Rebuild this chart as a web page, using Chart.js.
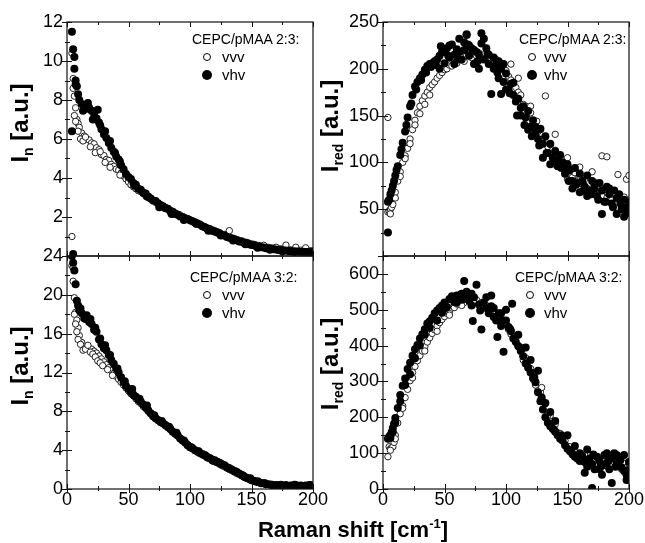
<!DOCTYPE html>
<html><head><meta charset="utf-8">
<script src="https://cdn.jsdelivr.net/npm/chart.js@4.4.1/dist/chart.umd.min.js"></script>
<style>
html,body{margin:0;padding:0;background:#fff;}
#wrap{position:relative;width:645px;height:543px;overflow:hidden;font-family:"Liberation Sans",Arial,Helvetica,sans-serif;color:#000;}
#wrap canvas{position:absolute;left:0;top:0;}
.ytitle{position:absolute;font-weight:bold;font-size:24px;line-height:24px;white-space:nowrap;transform:translate(-50%,-50%) rotate(-90deg);}
.ytitle sub{font-size:14px;vertical-align:baseline;position:relative;top:5px;}
.xtitle{position:absolute;font-weight:bold;font-size:22px;line-height:22px;white-space:nowrap;transform:translate(-50%,-50%);}
.xtitle sup{font-size:13px;vertical-align:baseline;position:relative;top:-9px;}
.lg{position:absolute;font-size:14px;line-height:16px;white-space:nowrap;transform:translateY(-50%);}
.lg.it{font-size:15px;}
.mk{position:absolute;border-radius:50%;transform:translate(-50%,-50%);box-sizing:border-box;}
.mk.open{width:8px;height:8px;border:1px solid #000;background:#fff;}
.mk.fill{width:10px;height:10px;background:#000;}
</style></head><body>
<div id="wrap">
<canvas id="cTL" width="645" height="543"></canvas>
<canvas id="cTR" width="645" height="543"></canvas>
<canvas id="cBL" width="645" height="543"></canvas>
<canvas id="cBR" width="645" height="543"></canvas>
</div>
<script>
// Raman shift grid (cm^-1)
const shift = [4,5,6,7,8,9,10,12,14,16,18,20,22,24,26,28,30,32,34,36,38,40,42,44,46,48,50,52,54,56,58,60,62,64,66,68,70,72,74,76,78,80,82,84,86,88,90,92,94,96,98,100,102,104,106,108,110,112,114,116,118,120,122,124,126,128,130,132,134,136,138,140,142,144,146,148,150,152,154,156,158,160,162,164,166,168,170,172,174,176,178,180,182,184,186,188,190,192,194,196,198,200];

// Top-left: I_n, CEPC/pMAA 2:3
const tlVvv = [10.4,9.1,8.2,7.6,7.0,6.8,6.6,
 6.3,6.15,6.0,5.95,5.8,5.75,5.55,5.45,5.2,5.15,
 4.95,4.9,4.7,4.6,4.45,4.4,4.25,4.1,3.95,3.8,
 3.65,3.55,3.45,3.35,3.3,3.2,3.1,3.0,2.95,2.85,
 2.75,2.7,2.6,2.55,2.5,2.4,2.35,2.25,2.2,2.15,
 2.1,2.0,1.95,1.9,1.85,1.8,1.75,1.7,1.6,1.55,
 1.5,1.45,1.4,1.35,1.3,1.25,1.2,1.12,1.1,1.02,
 0.98,0.92,0.9,0.85,0.8,0.78,0.72,0.7,0.66,0.62,
 0.6,0.56,0.54,0.5,0.48,0.46,0.44,0.42,0.4,0.38,
 0.37,0.36,0.34,0.33,0.32,0.31,0.3,0.3,0.29,0.3,
 0.28,0.28,0.27,0.27,0.26];
const tlVhv = [11.5,10.6,10.2,9.0,8.7,8.3,8.0,
 7.8,7.75,7.55,7.6,7.45,7.3,7.05,6.85,6.5,6.25,
 6.05,5.8,5.55,5.35,5.1,4.95,4.65,4.45,4.2,4.05,
 3.95,3.75,3.65,3.45,3.4,3.25,3.2,3.05,2.95,2.85,
 2.82,2.7,2.62,2.55,2.45,2.42,2.3,2.27,2.15,2.12,
 2.03,2.0,1.93,1.9,1.83,1.78,1.72,1.65,1.62,1.52,
 1.48,1.4,1.37,1.3,1.26,1.2,1.15,1.08,1.05,0.98,
 0.93,0.9,0.84,0.81,0.75,0.73,0.68,0.65,0.6,0.57,
 0.55,0.5,0.49,0.45,0.43,0.4,0.39,0.36,0.35,0.33,
 0.31,0.31,0.28,0.28,0.26,0.25,0.25,0.23,0.23,0.21,
 0.22,0.2,0.21,0.19,0.2];
const tlVvvExX = [4,5,6,7,9,11,13,15,19,23,27,31,35,43,132,160,170,178,186,194];
const tlVvvExY = [1.0,8.6,7.2,6.9,6.4,6.0,5.9,6.1,5.6,5.3,5.35,4.8,4.55,4.15,1.3,0.55,0.45,0.56,0.45,0.42];
const tlVhvExX = [4,5,6,7,13,17,21,25,27,31,35,39,43,55,65,75,85,95,105,115,125,135,145,155,165,175,185,195];
const tlVhvExY = [6.4,0.1,9.6,8.8,7.45,7.85,7.0,7.5,6.7,6.4,5.9,5.3,4.85,3.6,3.05,2.5,2.15,1.85,1.65,1.3,1.05,0.8,0.6,0.42,0.32,0.24,0.2,0.16];

// Bottom-left: I_n, CEPC/pMAA 3:2
const blVvv = [23.0,21.4,19.7,18.2,17.4,16.6,15.8,
 15.1,14.7,14.6,14.5,14.4,14.2,14.0,13.7,13.4,13.1,
 12.8,12.5,12.2,11.9,11.6,11.3,11.0,10.7,10.4,10.1,
 9.8,9.6,9.3,9.0,8.8,8.5,8.3,8.0,7.8,7.5,
 7.3,7.1,6.9,6.7,6.5,6.3,6.1,5.9,5.7,5.5,
 5.2,5.0,4.8,4.6,4.4,4.2,4.0,3.8,3.7,3.5,
 3.4,3.2,3.1,2.9,2.8,2.7,2.55,2.4,2.3,2.15,
 2.0,1.9,1.75,1.6,1.5,1.35,1.2,1.1,1.0,0.9,
 0.8,0.75,0.65,0.6,0.55,0.5,0.45,0.4,0.35,0.35,
 0.3,0.3,0.3,0.3,0.25,0.3,0.3,0.25,0.3,0.3,
 0.3,0.3,0.25,0.3,0.3];
const blVhv = [24.0,23.3,22.5,21.1,19.4,18.9,18.4,
 18.1,17.6,17.9,17.2,17.0,16.4,16.2,15.4,14.9,14.5,
 14.3,13.8,13.3,12.9,12.4,12.0,11.5,11.0,10.6,10.3,
 10.0,9.7,9.5,9.2,9.0,8.7,8.4,8.1,7.8,7.5,
 7.3,7.1,6.9,6.8,6.6,6.4,6.2,5.9,5.7,5.5,
 5.2,5.0,4.8,4.5,4.3,4.2,4.0,3.9,3.7,3.6,
 3.5,3.3,3.2,3.05,2.95,2.8,2.7,2.55,2.45,2.25,
 2.15,2.0,1.85,1.75,1.6,1.45,1.3,1.15,1.05,0.9,
 0.85,0.75,0.7,0.6,0.6,0.5,0.5,0.45,0.2,0.4,
 0.3,0.45,0.25,0.4,0.3,0.35,0.25,0.4,0.3,0.35,
 0.25,0.35,0.3,0.4,0.3];
const blVvvExX = [5,6,7,8,9,11,13,15,17,19,21,23,25,27,29,33,37];
const blVvvExY = [22.8,18.0,17.0,16.2,15.4,14.9,14.3,14.4,14.8,14.1,13.9,13.6,13.2,13.0,12.7,12.3,11.7];
const blVhvExX = [11,15,19,23,27,31,35,41,47,53,59,65,71,77,83,89,95,101,107,113,119,125,131,137,143,149,155,161,167,173,179,185,191,197];
const blVhvExY = [18.6,17.5,17.5,16.6,15.5,14.8,13.8,12.4,11.1,10.3,9.3,8.6,7.6,7.0,6.4,5.8,5.0,4.3,3.9,3.4,2.9,2.6,2.2,1.8,1.4,1.1,0.8,0.6,0.45,0.4,0.3,0.45,0.3,0.4];

// Top-right: I_red, CEPC/pMAA 2:3
const trVvv = [47,48,50,52,55,62,68,
 80,90,100,107,115,125,135,145,153,160,
 166,171,175,180,183,186,190,193,196,199,
 200,204,203,207,206,210,212,208,214,215,
 212,216,214,217,210,215,212,213,208,211,
 210,205,206,200,198,192,188,184,180,175,
 172,162,160,152,153,143,142,133,135,125,
 127,117,119,108,113,103,105,96,99,90,
 93,84,89,80,85,77,81,72,78,70,
 75,66,73,64,71,62,68,60,67,58,
 65,56,63,55,60];
const trVhv = [58,60,66,70,75,80,86,
 96,108,121,133,148,160,172,181,186,190,
 194,199,203,205,206,208,210,214,218,206,
 222,212,226,215,221,232,210,220,236,214,
 222,205,218,215,227,210,222,205,173,212,
 205,190,200,186,195,178,184,172,165,168,
 150,160,148,155,138,145,132,125,136,120,
 128,110,120,105,112,96,108,100,88,98,
 92,80,94,78,88,80,74,86,70,80,
 72,64,78,70,58,74,66,56,70,62,
 66,50,60,52,58];
const trVvvExX = [4,6,10,14,18,22,26,30,34,38,125,132,178,182,191,198,200,104,110,120,140,150,160,170,150,140];
const trVvvExY = [148,45,62,85,104,120,140,152,162,172,144,171,107,106,87,82,86,205,190,160,130,105,95,90,82,98];
const trVhvExX = [4,46,50,54,58,62,66,70,74,78,82,86,90,94,96,98,100,106,112,118,124,130,136,142,148,154,160,166,172,178,184,190,196,200,43,47,68,80,11,15,19,23,27,31,35,39,53,61,69,77,85,93,103,109,115,121,127,133,139,145,151,157,163,169,175,181,187,193,199];
const trVhvExY = [25,200,218,225,205,218,228,225,220,200,232,215,200,208,173,205,178,185,158,135,138,105,98,102,92,72,68,64,78,45,72,45,42,50,204,224,237,238,92,114,140,163,178,188,196,202,214,210,226,208,216,196,174,150,140,128,118,110,100,94,80,76,70,66,60,58,52,56,46];

// Bottom-right: I_red, CEPC/pMAA 3:2
const brVvv = [90,118,112,115,118,130,150,
 184,210,232,255,278,302,325,342,358,372,
 385,397,410,422,434,444,455,464,473,481,
 490,493,505,506,516,515,524,520,530,524,
 530,522,528,515,520,508,512,498,500,488,
 490,476,478,460,462,445,445,425,422,400,
 395,370,366,340,336,306,300,275,270,245,
 238,210,205,183,180,157,155,135,135,115,
 118,98,104,87,94,78,88,72,82,70,
 80,68,79,66,78,65,76,64,75,63,
 73,62,72,60,70];
const brVhv = [140,146,150,158,170,182,198,
 226,262,288,308,335,352,372,390,402,420,
 432,446,462,468,478,490,498,505,512,520,
 508,530,538,522,540,535,545,580,530,525,
 545,535,570,515,445,520,505,490,510,480,
 470,490,455,383,470,452,440,420,410,398,
 385,370,350,338,325,310,298,270,245,222,
 200,185,175,168,160,150,140,135,122,112,
 105,98,90,85,78,92,75,62,85,70,
 55,90,80,65,95,72,55,85,100,70,
 88,60,95,40,75];
const brVvvExX = [129,6,10,16,24,34,44,54,64,74,84,94,104,114,124,134,144,154,164,174,184,194];
const brVvvExY = [283,108,140,225,310,385,440,485,512,520,505,470,432,360,290,205,145,95,95,62,80,55];
const brVhvExX = [170,186,105,73,93,88,60,64,68,72,84,90,96,100,110,116,120,126,132,136,140,146,150,156,160,166,176,182,190,196,198,178,164,44,48,6,8,10,14,18,22,26,30,34,38,51,57,63,79,97,103,113,123,129,139,145,153,159,171,177,183,189,193,199];
const brVhvExY = [3,17,517,469,424,540,520,528,550,512,535,505,490,500,430,395,360,330,240,215,190,145,150,120,100,110,55,100,95,50,25,40,45,470,492,142,160,185,245,290,320,365,400,430,450,505,528,542,498,470,448,392,312,255,165,150,108,92,96,70,78,62,80,52];

// Tick values
const xTicks = [0,50,100,150,200];
const tlTicks = [0,2,4,6,8,10,12];
const blTicks = [0,4,8,12,16,20,24];
const trTicks = [0,50,100,150,200,250];
const brTicks = [0,100,200,300,400,500,600];

// Text
const seriesNames = ['vvv','vhv'];
const sampleNames = ['CEPC/pMAA 2:3:','CEPC/pMAA 3:2:'];
const yTitleN = ['I','n',' [a.u.]'];
const yTitleRed = ['I','red',' [a.u.]'];
const xTitle = ['Raman shift [cm','-1',']'];

const FONT = "'Liberation Sans', Arial, Helvetica, sans-serif";
Chart.defaults.font.family = FONT;

function pts(xs, ys){ return xs.map((x,i)=>({x:x, y:ys[i]})); }

function panel(id, area, yMin, yMax, yTicks, hideZero, showX, vvvPts, vhvPts){
  const YW = 60, XH = showX ? 24 : 0;
  const frameTicks = {
    id: 'frameTicks',
    afterDatasetsDraw(chart){
      const ctx = chart.ctx, a = chart.chartArea, xs = chart.scales.x, ys = chart.scales.y;
      ctx.save();
      ctx.strokeStyle = '#111';
      ctx.lineWidth = 1.2;
      ctx.strokeRect(a.left, a.top, a.right - a.left, a.bottom - a.top);
      ctx.lineWidth = 1;
      ctx.beginPath();
      const xm = [];
      for (let i = 0; i < xTicks.length; i++){
        xm.push([xTicks[i], true]);
        if (i < xTicks.length - 1) xm.push([(xTicks[i] + xTicks[i+1]) / 2, false]);
      }
      xm.forEach(([v, maj]) => {
        const p = Math.round(xs.getPixelForValue(v)) + 0.5;
        const L = maj ? 5 : 3, O = maj ? 4 : 2;
        ctx.moveTo(p, a.bottom + O); ctx.lineTo(p, a.bottom - L);
        ctx.moveTo(p, a.top); ctx.lineTo(p, a.top + L);
      });
      const ym = [];
      for (let i = 0; i < yTicks.length; i++){
        ym.push([yTicks[i], true]);
        if (i < yTicks.length - 1) ym.push([(yTicks[i] + yTicks[i+1]) / 2, false]);
      }
      ym.forEach(([v, maj]) => {
        const p = Math.round(ys.getPixelForValue(v)) + 0.5;
        const L = maj ? 5 : 3, O = maj ? 5 : 2;
        ctx.moveTo(a.left - O, p); ctx.lineTo(a.left + L, p);
      });
      ctx.stroke();
      ctx.restore();
    }
  };
  return new Chart(document.getElementById(id), {
    type: 'scatter',
    data: { datasets: [
      { label: seriesNames[0], data: vvvPts, order: 1,
        pointRadius: 3.2, pointHoverRadius: 3.2, pointBorderWidth: 1,
        pointBackgroundColor: '#fff', pointBorderColor: '#222',
        backgroundColor: '#fff', borderColor: '#222' },
      { label: seriesNames[1], data: vhvPts, order: 0,
        pointRadius: 4, pointHoverRadius: 4, pointBorderWidth: 0,
        pointBackgroundColor: '#000', pointBorderColor: '#000',
        backgroundColor: '#000', borderColor: '#000' }
    ]},
    options: {
      responsive: false, animation: false, events: [],
      layout: { padding: { left: area.l - YW, right: 645 - area.r, top: area.t, bottom: 543 - area.b - XH } },
      plugins: { legend: { display: false }, tooltip: { enabled: false } },
      scales: {
        x: { type: 'linear', position: 'bottom', min: 0, max: 200,
             afterBuildTicks: s => { s.ticks = xTicks.map(v => ({value: v})); },
             afterFit: s => { s.height = XH; },
             grid: { display: false, drawTicks: false }, border: { display: false },
             ticks: { display: showX, padding: 0, maxRotation: 0, autoSkip: false, color: '#000',
                      font: { size: 18, family: FONT } } },
        y: { type: 'linear', position: 'left', min: yMin, max: yMax,
             afterBuildTicks: s => { s.ticks = yTicks.map(v => ({value: v})); },
             afterFit: s => { s.width = YW; },
             grid: { display: false, drawTicks: false }, border: { display: false },
             ticks: { padding: 4, autoSkip: false, color: '#000', font: { size: 18, family: FONT },
                      callback: v => (hideZero && v === 0) ? '' : String(v) } }
      }
    },
    plugins: [frameTicks]
  });
}

panel('cTL', {l:67, r:313, t:22, b:256}, 0, 12, tlTicks, true, false,
  pts(shift, tlVvv).concat(pts(tlVvvExX, tlVvvExY)),
  pts(shift, tlVhv).concat(pts(tlVhvExX, tlVhvExY)));
panel('cTR', {l:383, r:629, t:22, b:256}, 0, 250, trTicks, true, false,
  pts(shift, trVvv).concat(pts(trVvvExX, trVvvExY)),
  pts(shift, trVhv).concat(pts(trVhvExX, trVhvExY)));
panel('cBL', {l:67, r:313, t:256, b:489}, 0, 24, blTicks, false, true,
  pts(shift, blVvv).concat(pts(blVvvExX, blVvvExY)),
  pts(shift, blVhv).concat(pts(blVhvExX, blVhvExY)));
panel('cBR', {l:383, r:629, t:256, b:489}, 0, 650, brTicks, false, true,
  pts(shift, brVvv).concat(pts(brVvvExX, brVvvExY)),
  pts(shift, brVhv).concat(pts(brVhvExX, brVhvExY)));

// HTML text overlays
const wrap = document.getElementById('wrap');
function el(cls, x, y, html){
  const d = document.createElement('div');
  d.className = cls; d.style.left = x + 'px'; d.style.top = y + 'px';
  if (html !== undefined) d.innerHTML = html;
  wrap.appendChild(d); return d;
}
function yTitle(parts, x, y){
  const d = el('ytitle', x, y);
  d.appendChild(document.createTextNode(parts[0]));
  const s = document.createElement('sub'); s.textContent = parts[1]; d.appendChild(s);
  d.appendChild(document.createTextNode(parts[2]));
}
yTitle(yTitleN, 21, 123);
yTitle(yTitleN, 21, 366);
yTitle(yTitleRed, 331, 126);
yTitle(yTitleRed, 331, 364);

(function(){
  const d = el('xtitle', 353, 531);
  d.appendChild(document.createTextNode(xTitle[0]));
  const s = document.createElement('sup'); s.textContent = xTitle[1]; d.appendChild(s);
  d.appendChild(document.createTextNode(xTitle[2]));
})();

function legend(header, hx, hy, mx, tx){
  el('lg', hx, hy).textContent = header;
  el('mk open', mx, hy + 18);
  el('lg it', tx, hy + 18).textContent = seriesNames[0];
  el('mk fill', mx, hy + 36);
  el('lg it', tx, hy + 36).textContent = seriesNames[1];
}
legend(sampleNames[0], 192, 39, 207, 222);
legend(sampleNames[0], 519, 39, 532, 544);
legend(sampleNames[1], 190, 277, 207, 222);
legend(sampleNames[1], 515, 277, 530, 544);
</script>
</body></html>
